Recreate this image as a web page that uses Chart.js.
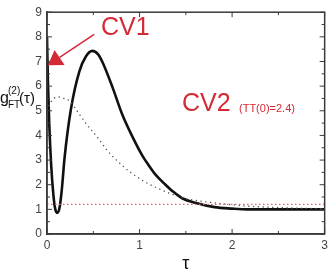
<!DOCTYPE html>
<html>
<head>
<meta charset="utf-8">
<script src="https://cdn.jsdelivr.net/npm/chart.js@4.4.1/dist/chart.umd.min.js"></script>
<style>
  html, body { margin: 0; padding: 0; background: #fff; }
</style>
</head>
<body>
<canvas id="chart" width="332" height="277"></canvas>
<script>
// solid curve (CV2 response)
const tauSolid = [0, 0.01, 0.025, 0.045, 0.07, 0.09, 0.112, 0.135, 0.16, 0.19, 0.26, 0.35, 0.42, 0.49, 0.55, 0.6, 0.71, 0.81, 0.92, 1.03, 1.1, 1.17, 1.28, 1.35, 1.46, 1.6, 1.81, 2.0, 2.17, 2.5, 3.0];
const gSolid = [8.0, 6.2, 4.4, 2.8, 1.55, 1.0, 0.86, 1.05, 1.8, 3.1, 5.1, 6.6, 7.2, 7.43, 7.3, 6.97, 5.93, 4.88, 3.97, 3.18, 2.78, 2.42, 2.0, 1.76, 1.45, 1.27, 1.09, 1.03, 1.0, 1.0, 1.0];

// dotted black curve
const tauDotted = [0, 0.03, 0.07, 0.12, 0.18, 0.245, 0.32, 0.42, 0.55, 0.64, 0.81, 0.99, 1.1, 1.28, 1.46, 1.63, 1.91, 2.17, 2.52, 3.0];
const gDotted = [5.0, 5.27, 5.48, 5.56, 5.5, 5.4, 5.02, 4.49, 3.9, 3.44, 2.79, 2.27, 2.03, 1.72, 1.47, 1.35, 1.22, 1.13, 1.07, 1.02];

// red dotted reference level
const tauRef = [0, 3];
const gRef = [1.2, 1.2];

// axes
const xMin = 0, xMax = 3, xStep = 1, xMinor = 0.5;
const yMin = 0, yMax = 9, yStep = 1, yMinor = 0.5;

// CV1 arrow, in data units: tail then head
const arrowTail = [0.51, 8.1];
const arrowHead = [0.01, 6.85];

const toPts = (xs, ys) => xs.map((x, i) => ({ x: x, y: ys[i] }));

const red = '#d42a36';
const axisColor = '#3a3a3a';
const fontFam = '"Liberation Sans", Arial, sans-serif';

const framePlugin = {
  id: 'frame',
  afterDatasetsDraw(chart) {
    const { ctx, chartArea: a, scales } = chart;
    const xs = scales.x, ys = scales.y;
    ctx.save();
    ctx.strokeStyle = axisColor;
    ctx.lineWidth = 1.5;
    ctx.strokeRect(a.left, a.top, a.right - a.left, a.bottom - a.top);

    // inward ticks on all four sides
    ctx.lineWidth = 1;
    ctx.beginPath();
    for (let v = xMin; v <= xMax + 1e-9; v += xMinor) {
      const px = xs.getPixelForValue(v);
      const len = Math.abs(v - Math.round(v)) < 1e-6 ? 5 : 3;
      ctx.moveTo(px, a.bottom); ctx.lineTo(px, a.bottom - len);
      ctx.moveTo(px, a.top); ctx.lineTo(px, a.top + len);
    }
    for (let v = yMin; v <= yMax + 1e-9; v += yMinor) {
      const py = ys.getPixelForValue(v);
      const len = Math.abs(v - Math.round(v)) < 1e-6 ? 5 : 3;
      ctx.moveTo(a.left, py); ctx.lineTo(a.left + len, py);
      ctx.moveTo(a.right, py); ctx.lineTo(a.right - len, py);
    }
    ctx.stroke();

    // CV1 arrow
    const tx = xs.getPixelForValue(arrowTail[0]), ty = ys.getPixelForValue(arrowTail[1]);
    const hx = xs.getPixelForValue(arrowHead[0]), hy = ys.getPixelForValue(arrowHead[1]);
    const ang = Math.atan2(hy - ty, hx - tx);
    const headLen = 14, headHalf = 9;
    const bx = hx - headLen * Math.cos(ang), by = hy - headLen * Math.sin(ang);
    ctx.strokeStyle = red;
    ctx.fillStyle = red;
    ctx.lineWidth = 1.5;
    ctx.beginPath();
    ctx.moveTo(tx, ty); ctx.lineTo(bx, by);
    ctx.stroke();
    ctx.beginPath();
    ctx.moveTo(hx, hy);
    ctx.lineTo(bx + headHalf * Math.sin(ang), by - headHalf * Math.cos(ang));
    ctx.lineTo(bx - headHalf * Math.sin(ang), by + headHalf * Math.cos(ang));
    ctx.closePath();
    ctx.fill();

    // labels
    ctx.textBaseline = 'alphabetic';
    ctx.textAlign = 'left';
    ctx.font = '25px ' + fontFam;
    ctx.fillText('CV1', 101, 35);
    ctx.fillText('CV2', 182, 111);
    ctx.font = '11px ' + fontFam;
    ctx.fillText('(TT(0)=2.4)', 239, 112);

    // y-axis title g_FT^(2)(tau)
    ctx.fillStyle = '#111';
    ctx.font = '16px ' + fontFam;
    ctx.fillText('g', 0, 103);
    ctx.font = '10px ' + fontFam;
    ctx.fillText('(2)', 8, 94);
    ctx.fillText('FT', 8, 108);
    ctx.font = '15px ' + fontFam;
    ctx.fillText('(\u03c4)', 19, 103);
    ctx.restore();
  }
};

new Chart(document.getElementById('chart'), {
  type: 'line',
  data: {
    datasets: [
      {
        data: toPts(tauRef, gRef),
        borderColor: '#e8606a',
        borderWidth: 1.2,
        borderDash: [1.5, 2.5],
        pointRadius: 0
      },
      {
        data: toPts(tauDotted, gDotted),
        borderColor: '#555',
        borderWidth: 1.3,
        borderDash: [1.3, 3.5],
        cubicInterpolationMode: 'monotone',
        pointRadius: 0
      },
      {
        data: toPts(tauSolid, gSolid),
        borderColor: '#111',
        borderWidth: 2.6,
        cubicInterpolationMode: 'monotone',
        pointRadius: 0
      }
    ]
  },
  options: {
    responsive: false,
    animation: false,
    layout: { padding: { top: 5, right: 2, left: 0, bottom: 0 } },
    plugins: { legend: { display: false }, tooltip: { enabled: false } },
    scales: {
      x: {
        type: 'linear',
        min: xMin, max: xMax,
        ticks: { stepSize: xStep, color: '#444', font: { size: 12, family: fontFam }, padding: 4, maxRotation: 0 },
        grid: { drawOnChartArea: false, drawTicks: false },
        border: { color: axisColor, width: 1.5 },
        title: { display: true, text: '\u03c4', color: '#111', font: { size: 18, family: fontFam }, padding: { top: 0, bottom: 2 } },
        afterFit: (s) => { s.height = 43; }
      },
      y: {
        min: yMin, max: yMax,
        ticks: { stepSize: yStep, color: '#444', font: { size: 12, family: fontFam }, padding: 5 },
        grid: { drawOnChartArea: false, drawTicks: false },
        border: { color: axisColor, width: 1.5 },
        afterFit: (s) => { s.width = 47; }
      }
    }
  },
  plugins: [framePlugin]
});
</script>
</body>
</html>
